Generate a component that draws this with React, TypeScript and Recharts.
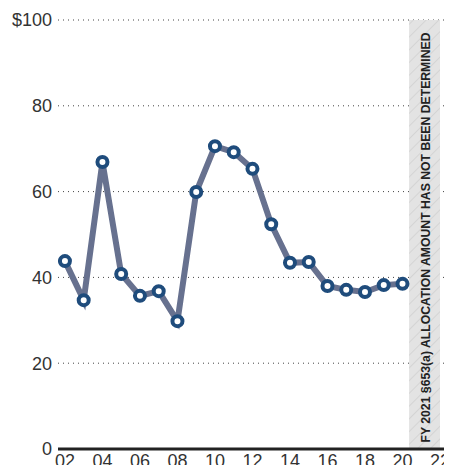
import { LineChart, Line, XAxis, YAxis, CartesianGrid, ReferenceArea } from 'recharts';

// fiscal years and allocation amounts ($ millions)
const years = [2002, 2003, 2004, 2005, 2006, 2007, 2008, 2009, 2010, 2011, 2012, 2013, 2014, 2015, 2016, 2017, 2018, 2019, 2020];
const amounts = [43.8, 34.7, 66.9, 40.8, 35.7, 36.8, 29.8, 59.9, 70.6, 69.2, 65.3, 52.4, 43.4, 43.6, 38.0, 37.1, 36.6, 38.2, 38.5];
const xTicks = [2002, 2004, 2006, 2008, 2010, 2012, 2014, 2016, 2018, 2020, 2022];
const yTicks = [0, 20, 40, 60, 80, 100];
const noteText = 'FY 2021 §653(a) ALLOCATION AMOUNT HAS NOT BEEN DETERMINED';

const data = years.map((y, i) => ({ year: y, amount: amounts[i] }));

const font = '"Liberation Sans", Arial, sans-serif';

const NoteLabel = (props: any) => {
  const { x, y, width, height } = props.viewBox;
  const cx = x + width / 2 + 1;
  const cy = y + height / 2 + 3;
  return (
    <text
      x={cx}
      y={cy}
      transform={`rotate(-90 ${cx} ${cy})`}
      textAnchor="middle"
      dominantBaseline="central"
      fontFamily='"Liberation Sans Narrow", "Liberation Sans", Arial, sans-serif'
      fontWeight="bold"
      fontSize={13}
      fill="#222"
      textLength={410}
      lengthAdjust="spacingAndGlyphs"
    >
      {noteText}
    </text>
  );
};

export default function App() {
  return (
    <div style={{ margin: -8 }}>
      <LineChart width={452} height={473} data={data} margin={{ top: 20, right: 0, bottom: 0, left: 0 }}>
        <defs>
          <pattern id="hatch" width="9" height="9" patternUnits="userSpaceOnUse" patternTransform="rotate(45)">
            <rect width="9" height="9" fill="#e3e3e3" />
            <line x1="0" y1="0" x2="0" y2="9" stroke="#c6c6c6" strokeWidth="1" />
          </pattern>
        </defs>
        <ReferenceArea x1={2020.35} x2={2022} y1={0} y2={100} fill="url(#hatch)" fillOpacity={1} stroke="none" label={<NoteLabel />} />
        <CartesianGrid vertical={false} stroke="#444" strokeDasharray="1 4" />
        <XAxis
          dataKey="year"
          type="number"
          domain={[2001.63, 2022.64]}
          ticks={xTicks}
          interval={0}
          tickFormatter={(v: number) => String(v).slice(2)}
          height={24}
          tickLine={false}
          tickSize={0}
          tickMargin={5}
          axisLine={{ stroke: '#222', strokeWidth: 3 }}
          tick={{ fill: '#333', fontSize: 18, fontFamily: font }}
          allowDataOverflow
        />
        <YAxis
          domain={[0, 100]}
          ticks={yTicks}
          interval={0}
          width={58}
          tickLine={false}
          tickSize={0}
          tickMargin={6}
          axisLine={false}
          tickFormatter={(v: number) => (v === 100 ? '$100' : String(v))}
          tick={{ fill: '#333', fontSize: 18, fontFamily: font }}
        />
        <Line
          dataKey="amount"
          type="linear"
          stroke="#67718f"
          strokeWidth={6}
          dot={{ r: 5, fill: '#fff', stroke: '#1f4c7c', strokeWidth: 4 }}
          activeDot={false}
          isAnimationActive={false}
        />
      </LineChart>
    </div>
  );
}
